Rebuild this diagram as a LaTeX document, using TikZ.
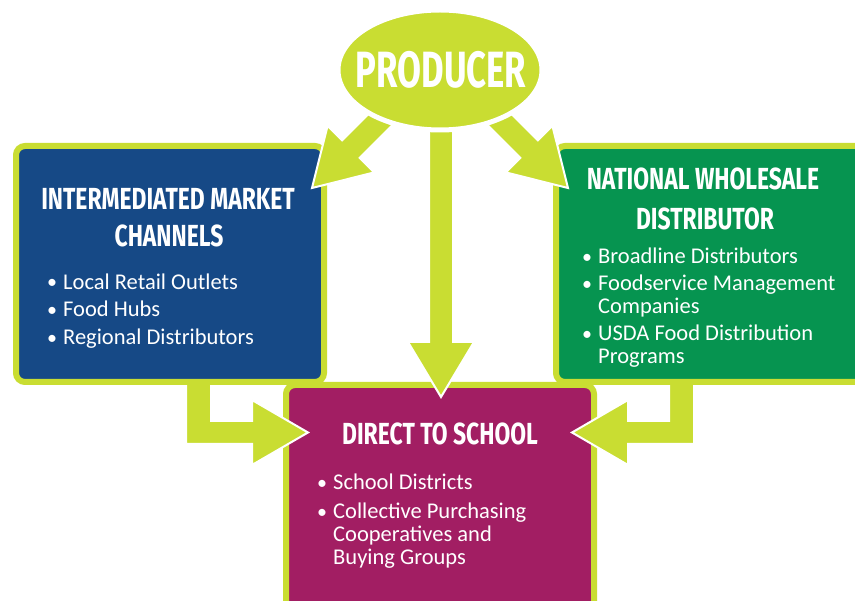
\documentclass[tikz,border=0pt]{standalone}
\usepackage{fontspec}
\setmainfont{Carlito}
\newfontfamily\titlefont[FakeStretch=0.75]{Fira Sans}
\newfontfamily\bigtitlefont[FakeStretch=0.68]{Fira Sans}
\usetikzlibrary{shapes.geometric}
\definecolor{lime}{HTML}{C9DD32}
\definecolor{boxblue}{HTML}{164986}
\definecolor{boxgreen}{HTML}{069450}
\definecolor{boxmag}{HTML}{A21E63}
\begin{document}
\begin{tikzpicture}[x=1pt,y=-1pt,
  box/.style={draw=lime, line width=6pt, rounded corners=9pt, inner sep=0pt},
  blockarrow/.style={fill=lime, draw=white, line width=2pt, line join=miter},
  title/.style={text=white, font=\titlefont\bfseries\fontsize{30.5}{30.5}\selectfont, inner sep=0pt, anchor=base},
  item/.style={text=white, font=\fontsize{22.5}{22.5}\selectfont, inner sep=0pt, anchor=base west},
  dot/.style={text=white, font=\fontsize{20}{20}\selectfont, inner sep=0pt, anchor=base west},
]
\clip (0,0) rectangle (855,601);
\fill[white] (0,0) rectangle (855,601);

% bottom box
\node[box, fill=boxmag, minimum width=308pt, minimum height=240pt] (school) at (440,505) {};

% L-shaped arrows into the bottom box
\draw[blockarrow] (186,370) -- (211,370) -- (211,421) -- (252,421) -- (252,400)
  -- (308,432.5) -- (252,465) -- (252,444) -- (186,444) -- cycle;
\draw[blockarrow] (694,370) -- (669,370) -- (669,421) -- (628,421) -- (628,400)
  -- (572,432.5) -- (628,465) -- (628,444) -- (694,444) -- cycle;

% side boxes
\node[box, fill=boxblue, minimum width=308pt, minimum height=236pt] (inter) at (170,264) {};
\node[box, fill=boxgreen, minimum width=314pt, minimum height=236pt] (natl) at (713,264) {};

% arrows from the producer
\draw[blockarrow] (429,115) -- (453,115) -- (453,342) -- (474,342) -- (441,397)
  -- (408,342) -- (429,342) -- cycle;
\draw[blockarrow] (384.5,97.9) -- (402.1,115.5) -- (359.7,157.9) -- (374.2,172.4)
  -- (312,188) -- (327.6,125.8) -- (342.1,140.3) -- cycle;
\draw[blockarrow] (495.5,97.9) -- (477.9,115.5) -- (520.3,157.9) -- (505.8,172.4)
  -- (568,188) -- (552.4,125.8) -- (537.9,140.3) -- cycle;

% producer
\node[ellipse, fill=lime, draw=white, line width=5pt, inner sep=0pt,
  minimum width=204pt, minimum height=120pt] (producer) at (440,70) {};
\node[title, font=\bigtitlefont\bfseries\fontsize{51}{51}\selectfont] (ptext) at (441,88) {PRODUCER};

% left box text
\node[title] (it1) at (168,210) {INTERMEDIATED MARKET};
\node[title] (it2) at (169,247) {CHANNELS};
\node[dot] (ib1) at (47,289) {•};
\node[item] (il1) at (63,289.5) {Local Retail Outlets};
\node[dot] (ib2) at (47,317) {•};
\node[item] (il2) at (63,317) {Food Hubs};
\node[dot] (ib3) at (47,344.5) {•};
\node[item] (il3) at (63,344.5) {Regional Distributors};

% right box text
\node[title] (nt1) at (703,190) {NATIONAL WHOLESALE};
\node[title] (nt2) at (705,230) {DISTRIBUTOR};
\node[dot] (nb1) at (582,263.5) {•};
\node[item] (nl1) at (598,263.5) {Broadline Distributors};
\node[dot] (nb2) at (582,290.5) {•};
\node[item] (nl2) at (598,290.5) {Foodservice Management};
\node[item] (nl2b) at (598,313.5) {Companies};
\node[dot] (nb3) at (582,340.5) {•};
\node[item] (nl3) at (598,340.5) {USDA Food Distribution};
\node[item] (nl3b) at (598,363.5) {Programs};

% bottom box text
\node[title] (st1) at (440,445) {DIRECT TO SCHOOL};
\node[dot] (sb1) at (317,489.5) {•};
\node[item] (sl1) at (333,489.5) {School Districts};
\node[dot] (sb2) at (317,518.5) {•};
\node[item] (sl2) at (333,518.5) {Collective Purchasing};
\node[item] (sl2b) at (333,541.5) {Cooperatives and};
\node[item] (sl2c) at (333,564.5) {Buying Groups};
\end{tikzpicture}
\end{document}
